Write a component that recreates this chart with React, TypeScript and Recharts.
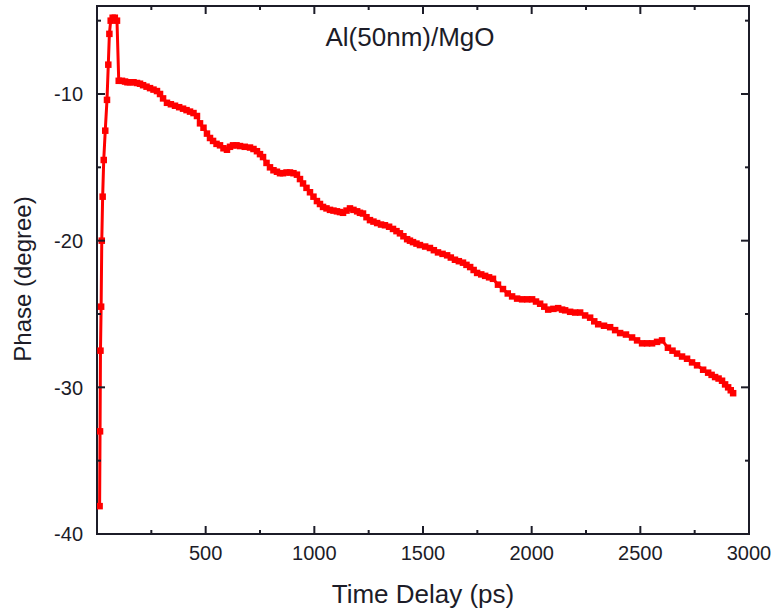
import React from 'react';
import { LineChart, Line, XAxis, YAxis, ReferenceArea } from 'recharts';

// Time delay (ps)
const times = [
  12, 14, 16, 19, 22, 26, 31, 38, 46, 52, 57, 63, 72, 82, 92, 100, 115, 129, 140, 152,
  168, 184, 198, 212, 228, 244, 260, 276, 290, 304, 322, 340, 359, 378, 396, 412, 428, 444, 460, 474,
  490, 506, 520, 534, 550, 566, 582, 598, 612, 626, 642, 658, 680, 704, 720, 736, 750, 764, 780, 796,
  812, 828, 842, 856, 872, 888, 904, 920, 934, 948, 964, 980, 996, 1012, 1026, 1040, 1056, 1072, 1088, 1104,
  1118, 1132, 1148, 1164, 1180, 1197, 1210, 1224, 1240, 1256, 1272, 1289, 1307, 1325, 1344, 1362, 1378, 1394, 1410, 1427,
  1440, 1454, 1470, 1486, 1510, 1532, 1550, 1569, 1590, 1611, 1628, 1647, 1665, 1684, 1700, 1717, 1733, 1749, 1768, 1786,
  1804, 1822, 1845, 1868, 1890, 1910, 1933, 1956, 1980, 2002, 2020, 2039, 2058, 2076, 2100, 2122, 2140, 2154, 2177, 2200,
  2223, 2246, 2269, 2288, 2306, 2333, 2361, 2384, 2407, 2434, 2462, 2485, 2508, 2531, 2554, 2577, 2600, 2627, 2648, 2669,
  2692, 2715, 2738, 2761, 2789, 2812, 2828, 2844, 2860, 2876, 2890, 2904, 2916, 2927,
];

// Phase (degree)
const phases = [
  -38.1, -33.0, -27.5, -24.5, -20.0, -17.0, -14.5, -12.5, -10.4, -8.0, -5.9, -5.0, -4.8, -4.8, -5.0, -9.1, -9.1, -9.15, -9.2, -9.2,
  -9.2, -9.25, -9.3, -9.4, -9.5, -9.6, -9.7, -9.8, -10.0, -10.3, -10.6, -10.7, -10.8, -10.9, -11.0, -11.1, -11.2, -11.3, -11.5, -12.0,
  -12.3, -12.7, -13.0, -13.2, -13.4, -13.5, -13.7, -13.8, -13.6, -13.5, -13.5, -13.55, -13.6, -13.65, -13.75, -13.9, -14.1, -14.3, -14.7, -15.0,
  -15.2, -15.3, -15.4, -15.4, -15.35, -15.35, -15.4, -15.5, -15.8, -16.1, -16.4, -16.7, -17.0, -17.3, -17.5, -17.7, -17.8, -17.9, -17.95, -18.0,
  -18.05, -18.1, -17.95, -17.8, -17.9, -18.0, -18.1, -18.15, -18.4, -18.6, -18.7, -18.8, -18.9, -18.95, -19.05, -19.2, -19.35, -19.5, -19.7, -19.9,
  -20.0, -20.1, -20.2, -20.3, -20.4, -20.5, -20.65, -20.8, -20.9, -21.0, -21.15, -21.3, -21.4, -21.5, -21.65, -21.8, -22.0, -22.2, -22.3, -22.4,
  -22.5, -22.6, -23.0, -23.3, -23.6, -23.8, -23.95, -24.0, -24.0, -24.0, -24.15, -24.3, -24.5, -24.7, -24.65, -24.6, -24.7, -24.75, -24.85, -24.9,
  -24.9, -25.1, -25.25, -25.5, -25.7, -25.8, -25.9, -26.1, -26.3, -26.4, -26.6, -26.8, -27.0, -27.0, -27.0, -26.9, -26.8, -27.3, -27.5, -27.7,
  -27.9, -28.05, -28.3, -28.5, -28.8, -29.0, -29.15, -29.3, -29.4, -29.55, -29.8, -30.0, -30.2, -30.4,
];

const xTicks = [250, 500, 750, 1000, 1250, 1500, 1750, 2000, 2250, 2500, 2750, 3000];
const yTicks = [-40, -35, -30, -25, -20, -15, -10, -5];
const title = 'Al(50nm)/MgO';
const xTitle = 'Time Delay (ps)';
const yTitle = 'Phase (degree)';

const data = times.map((t, i) => ({ t, v: phases[i] }));

const W = 775;
const H = 615;
const PLOT = { left: 97, right: 749, top: 6, bottom: 534 };
const FONT = '"Liberation Sans", Arial, sans-serif';
const INK = '#1c1c28';
const RED = '#ff0000';

const XTick = (props: any) => {
  const { x, payload } = props;
  const v = payload.value;
  const major = v % 500 === 0;
  const len = major ? 8 : 4;
  return (
    <g>
      <line x1={x} x2={x} y1={PLOT.bottom} y2={PLOT.bottom - len} stroke={INK} strokeWidth={2} />
      <line x1={x} x2={x} y1={PLOT.top} y2={PLOT.top + len} stroke={INK} strokeWidth={2} />
      {major && (
        <text x={x} y={560} textAnchor="middle" fontSize={20} fontFamily={FONT} fill={INK}>
          {v}
        </text>
      )}
    </g>
  );
};

const YTick = (props: any) => {
  const { y, payload } = props;
  const v = payload.value;
  const major = v % 10 === 0;
  const len = major ? 8 : 4;
  return (
    <g>
      <line x1={PLOT.left} x2={PLOT.left + len} y1={y} y2={y} stroke={INK} strokeWidth={2} />
      <line x1={PLOT.right} x2={PLOT.right - len} y1={y} y2={y} stroke={INK} strokeWidth={2} />
      {major && (
        <text x={83} y={y} dy="0.36em" textAnchor="end" fontSize={20} fontFamily={FONT} fill={INK}>
          {v}
        </text>
      )}
    </g>
  );
};

const SquareDot = (props: any) => {
  const { cx, cy, index } = props;
  if (cx == null || cy == null) return <g key={`d${index}`} />;
  return <rect key={`d${index}`} x={cx - 3.25} y={cy - 3.25} width={6.5} height={6.5} fill={RED} />;
};

export default function App() {
  return (
    <div style={{ position: 'absolute', left: 0, top: 0, width: W, height: H, background: '#fff' }}>
      <LineChart
        width={W}
        height={H}
        data={data}
        margin={{ top: PLOT.top, right: W - PLOT.right, bottom: 0, left: 0 }}
      >
        <XAxis
          dataKey="t"
          type="number"
          domain={[0, 3000]}
          ticks={xTicks}
          interval={0}
          allowDataOverflow
          height={H - PLOT.bottom}
          axisLine={false}
          tickLine={false}
          tick={XTick}
          label={{
            content: () => (
              <text
                x={(PLOT.left + PLOT.right) / 2}
                y={603}
                textAnchor="middle"
                fontSize={26}
                fontFamily={FONT}
                fill={INK}
              >
                {xTitle}
              </text>
            ),
          }}
        />
        <YAxis
          type="number"
          domain={[-40, -4]}
          ticks={yTicks}
          interval={0}
          allowDataOverflow
          width={PLOT.left}
          axisLine={false}
          tickLine={false}
          tick={YTick}
          label={{
            content: () => (
              <text
                transform="translate(31,279) rotate(-90)"
                textAnchor="middle"
                fontSize={24}
                fontFamily={FONT}
                fill={INK}
              >
                {yTitle}
              </text>
            ),
          }}
        />
        <ReferenceArea
          x1={0}
          x2={3000}
          y1={-40}
          y2={-4}
          fill="none"
          fillOpacity={0}
          stroke={INK}
          strokeWidth={2}
          ifOverflow="visible"
        />
        <Line
          type="linear"
          dataKey="v"
          stroke={RED}
          strokeWidth={3}
          dot={SquareDot}
          activeDot={false}
          isAnimationActive={false}
        />
      </LineChart>
      <div
        style={{
          position: 'absolute',
          left: 410,
          top: 21,
          transform: 'translateX(-50%)',
          fontFamily: FONT,
          fontSize: 26,
          color: INK,
          whiteSpace: 'nowrap',
          lineHeight: '32px',
        }}
      >
        {title}
      </div>
    </div>
  );
}
